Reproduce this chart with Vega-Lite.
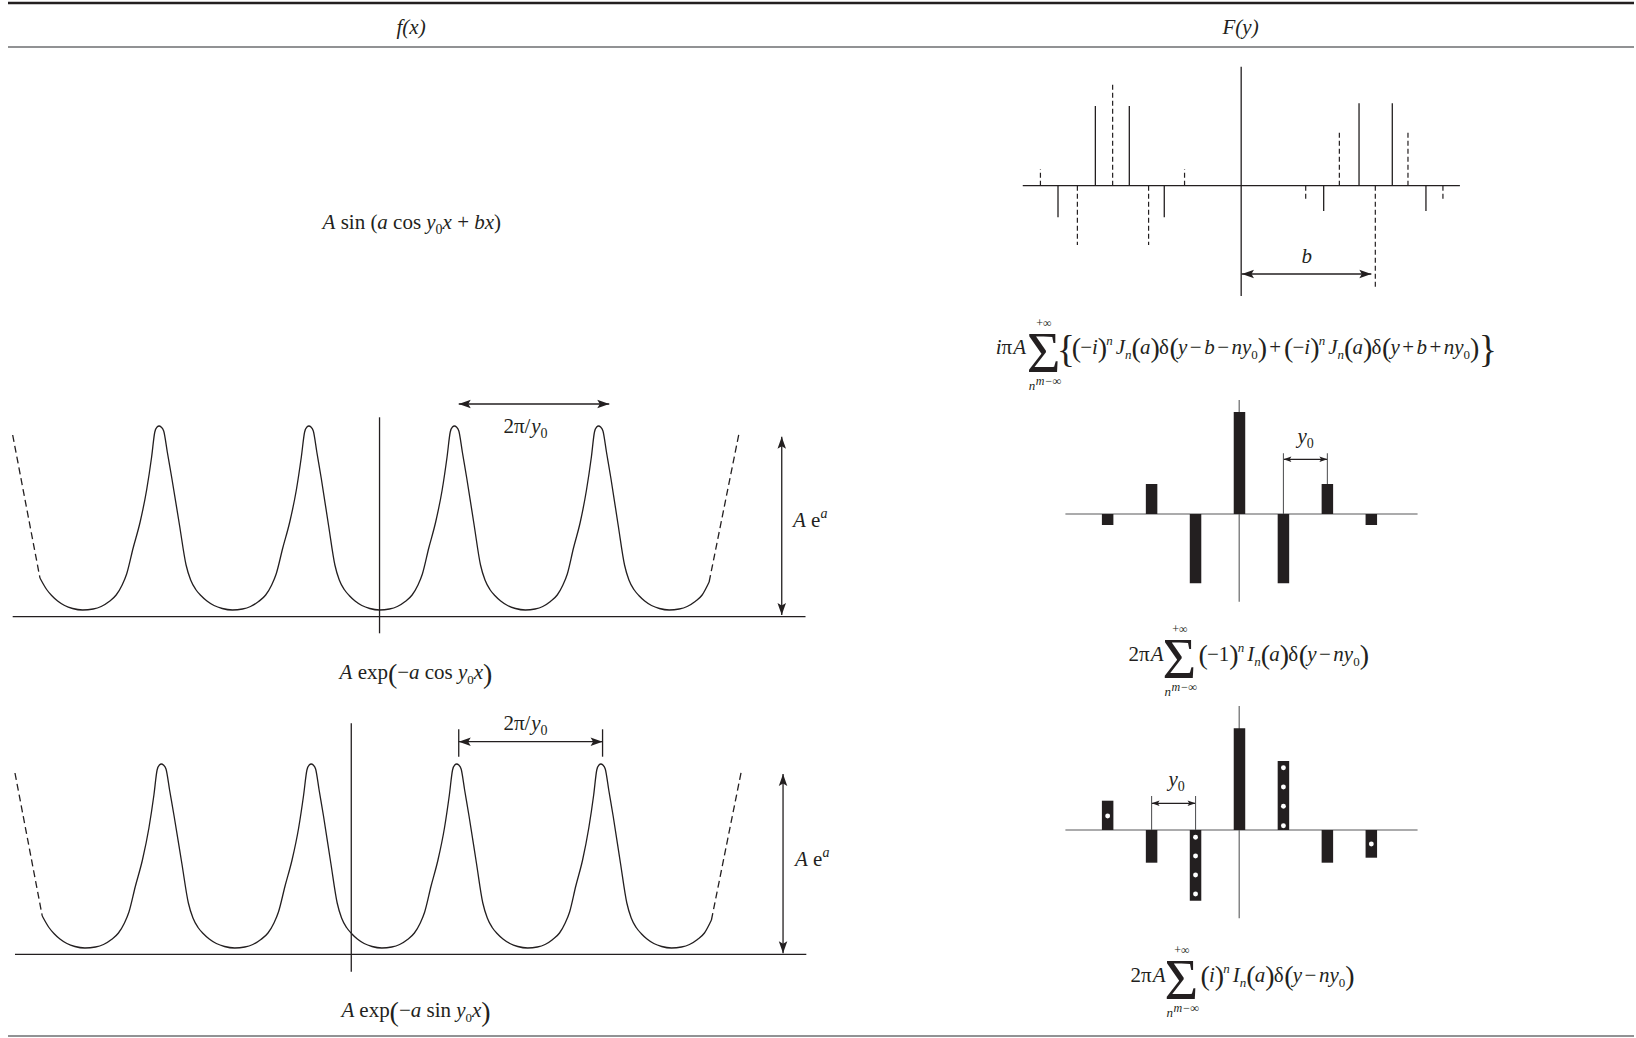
{
  "$schema": "https://vega.github.io/schema/vega-lite/v6.json",
  "width": 1636,
  "height": 1038,
  "autosize": {"type": "fit", "contains": "padding"},
  "padding": 0,
  "background": "white",
  "config": {"view": {"stroke": null}},
  "datasets": {
    "lines": [
      {"x": 8, "y": 3, "x2": 1636, "y2": 3, "s": "thick"},
      {"x": 8, "y": 47, "x2": 1636, "y2": 47, "s": "frame"},
      {"x": 8, "y": 1036, "x2": 1636, "y2": 1036, "s": "frame"},
      {"x": 12.7, "y": 616.7, "x2": 806.5, "y2": 616.7, "s": "ax"},
      {"x": 380, "y": 417.3, "x2": 380, "y2": 633.3, "s": "ax"},
      {"x": 459.3, "y": 404, "x2": 610, "y2": 404, "s": "ax"},
      {"x": 782.7, "y": 436.7, "x2": 782.7, "y2": 615, "s": "ax"},
      {"x": 15, "y": 954.3, "x2": 807.3, "y2": 954.3, "s": "ax"},
      {"x": 351.7, "y": 723.3, "x2": 351.7, "y2": 971.7, "s": "ax"},
      {"x": 459.3, "y": 741.7, "x2": 603.3, "y2": 741.7, "s": "ax"},
      {"x": 459.3, "y": 729.3, "x2": 459.3, "y2": 756.7, "s": "ax"},
      {"x": 603.3, "y": 729.3, "x2": 603.3, "y2": 756.7, "s": "ax"},
      {"x": 784, "y": 774, "x2": 784, "y2": 953.3, "s": "ax"},
      {"x": 1024, "y": 185.7, "x2": 1461.7, "y2": 185.7, "s": "ax"},
      {"x": 1242.7, "y": 66.7, "x2": 1242.7, "y2": 296, "s": "ax"},
      {"x": 1243, "y": 274, "x2": 1373, "y2": 274, "s": "ax"},
      {"x": 1041.7, "y": 185.7, "x2": 1041.7, "y2": 169.3, "s": "dash"},
      {"x": 1059.3, "y": 185.7, "x2": 1059.3, "y2": 217.3, "s": "ax"},
      {"x": 1078.7, "y": 185.7, "x2": 1078.7, "y2": 245, "s": "dash"},
      {"x": 1096.7, "y": 185.7, "x2": 1096.7, "y2": 106, "s": "ax"},
      {"x": 1114, "y": 185.7, "x2": 1114, "y2": 84, "s": "dash"},
      {"x": 1130.7, "y": 185.7, "x2": 1130.7, "y2": 106, "s": "ax"},
      {"x": 1150, "y": 185.7, "x2": 1150, "y2": 245, "s": "dash"},
      {"x": 1165.7, "y": 185.7, "x2": 1165.7, "y2": 217.3, "s": "ax"},
      {"x": 1186, "y": 185.7, "x2": 1186, "y2": 169.3, "s": "dash"},
      {"x": 1307.3, "y": 185.7, "x2": 1307.3, "y2": 201.7, "s": "dash"},
      {"x": 1325.3, "y": 185.7, "x2": 1325.3, "y2": 211, "s": "ax"},
      {"x": 1341, "y": 185.7, "x2": 1341, "y2": 131.7, "s": "dash"},
      {"x": 1360.7, "y": 185.7, "x2": 1360.7, "y2": 103.3, "s": "ax"},
      {"x": 1377, "y": 185.7, "x2": 1377, "y2": 287.3, "s": "dash"},
      {"x": 1394, "y": 185.7, "x2": 1394, "y2": 103.3, "s": "ax"},
      {"x": 1409.7, "y": 185.7, "x2": 1409.7, "y2": 131.7, "s": "dash"},
      {"x": 1427.7, "y": 185.7, "x2": 1427.7, "y2": 211, "s": "ax"},
      {"x": 1444.7, "y": 185.7, "x2": 1444.7, "y2": 201.7, "s": "dash"},
      {"x": 1066.7, "y": 514, "x2": 1419.3, "y2": 514, "s": "gray"},
      {"x": 1240.7, "y": 400, "x2": 1240.7, "y2": 601.7, "s": "gray"},
      {"x": 1285, "y": 453.3, "x2": 1285, "y2": 514, "s": "gray"},
      {"x": 1329, "y": 453.3, "x2": 1329, "y2": 484, "s": "gray"},
      {"x": 1285, "y": 459.3, "x2": 1329, "y2": 459.3, "s": "ax"},
      {"x": 1066.7, "y": 830, "x2": 1419.3, "y2": 830, "s": "gray"},
      {"x": 1240.7, "y": 706, "x2": 1240.7, "y2": 918.3, "s": "gray"},
      {"x": 1153, "y": 796, "x2": 1153, "y2": 830, "s": "gray"},
      {"x": 1197, "y": 796, "x2": 1197, "y2": 830, "s": "gray"},
      {"x": 1153, "y": 803.3, "x2": 1197, "y2": 803.3, "s": "ax"}
    ],
    "bars": [
      {"x": 1109, "y": 514, "y2": 525},
      {"x": 1153, "y": 514, "y2": 484},
      {"x": 1197, "y": 514, "y2": 583.3},
      {"x": 1241, "y": 514, "y2": 412},
      {"x": 1285, "y": 514, "y2": 583.3},
      {"x": 1329, "y": 514, "y2": 484},
      {"x": 1373, "y": 514, "y2": 525},
      {"x": 1109, "y": 830, "y2": 800.7},
      {"x": 1153, "y": 830, "y2": 862.7},
      {"x": 1197, "y": 830, "y2": 900.7},
      {"x": 1241, "y": 830, "y2": 728.3},
      {"x": 1285, "y": 830, "y2": 761},
      {"x": 1329, "y": 830, "y2": 862.7},
      {"x": 1373, "y": 830, "y2": 857.7}
    ],
    "dots": [
      {"x": 1109, "y": 816},
      {"x": 1197, "y": 837.3}, {"x": 1197, "y": 856}, {"x": 1197, "y": 875}, {"x": 1197, "y": 894},
      {"x": 1285, "y": 767.7}, {"x": 1285, "y": 787}, {"x": 1285, "y": 806.3}, {"x": 1285, "y": 825.7},
      {"x": 1373, "y": 844}
    ],
    "heads": [
      {"x": 459.3, "y": 404, "angle": 180, "k": "big"},
      {"x": 610, "y": 404, "angle": 0, "k": "big"},
      {"x": 782.7, "y": 436.7, "angle": 270, "k": "big"},
      {"x": 782.7, "y": 615, "angle": 90, "k": "big"},
      {"x": 459.3, "y": 741.7, "angle": 180, "k": "big"},
      {"x": 603.3, "y": 741.7, "angle": 0, "k": "big"},
      {"x": 784, "y": 774, "angle": 270, "k": "big"},
      {"x": 784, "y": 953.3, "angle": 90, "k": "big"},
      {"x": 1243.5, "y": 274, "angle": 180, "k": "big"},
      {"x": 1373, "y": 274, "angle": 0, "k": "big"},
      {"x": 1285, "y": 459.3, "angle": 180, "k": "small"},
      {"x": 1329, "y": 459.3, "angle": 0, "k": "small"},
      {"x": 1153, "y": 803.3, "angle": 180, "k": "small"},
      {"x": 1197, "y": 803.3, "angle": 0, "k": "small"}
    ],
    "curves": [
      {"x": 12.7, "y": 435, "seg": "t-dl", "p": "dash"},
      {"x": 40, "y": 578, "seg": "t-dl", "p": "dash"},
      {"x": 710, "y": 582, "seg": "t-dr", "p": "dash"},
      {"x": 740, "y": 433, "seg": "t-dr", "p": "dash"},
      {"x": 15, "y": 773, "seg": "b-dl", "p": "dash"},
      {"x": 42.3, "y": 916, "seg": "b-dl", "p": "dash"},
      {"x": 712.3, "y": 920, "seg": "b-dr", "p": "dash"},
      {"x": 742.3, "y": 771, "seg": "b-dr", "p": "dash"},
      {"x": 40, "y": 578, "seg": "t", "p": "solid"},
      {"x": 46.7, "y": 589.5, "seg": "t", "p": "solid"},
      {"x": 51.7, "y": 595.5, "seg": "t", "p": "solid"},
      {"x": 57.7, "y": 601, "seg": "t", "p": "solid"},
      {"x": 64.7, "y": 605.5, "seg": "t", "p": "solid"},
      {"x": 72.7, "y": 608.5, "seg": "t", "p": "solid"},
      {"x": 82.7, "y": 610, "seg": "t", "p": "solid"},
      {"x": 93.3, "y": 609, "seg": "t", "p": "solid"},
      {"x": 101.3, "y": 606.5, "seg": "t", "p": "solid"},
      {"x": 109.3, "y": 601.5, "seg": "t", "p": "solid"},
      {"x": 116.3, "y": 595, "seg": "t", "p": "solid"},
      {"x": 122.3, "y": 585, "seg": "t", "p": "solid"},
      {"x": 126.8, "y": 574, "seg": "t", "p": "solid"},
      {"x": 133.3, "y": 548, "seg": "t", "p": "solid"},
      {"x": 140.3, "y": 522, "seg": "t", "p": "solid"},
      {"x": 146.8, "y": 490, "seg": "t", "p": "solid"},
      {"x": 151.8, "y": 457, "seg": "t", "p": "solid"},
      {"x": 155, "y": 432, "seg": "t", "p": "solid"},
      {"x": 157.3, "y": 427, "seg": "t", "p": "solid"},
      {"x": 159.3, "y": 426, "seg": "t", "p": "solid"},
      {"x": 161.3, "y": 427, "seg": "t", "p": "solid"},
      {"x": 163.9, "y": 431, "seg": "t", "p": "solid"},
      {"x": 167.5, "y": 452, "seg": "t", "p": "solid"},
      {"x": 172, "y": 478, "seg": "t", "p": "solid"},
      {"x": 179.7, "y": 525, "seg": "t", "p": "solid"},
      {"x": 186.3, "y": 565, "seg": "t", "p": "solid"},
      {"x": 190.9, "y": 580, "seg": "t", "p": "solid"},
      {"x": 196, "y": 589.5, "seg": "t", "p": "solid"},
      {"x": 201.1, "y": 595.5, "seg": "t", "p": "solid"},
      {"x": 207.2, "y": 601, "seg": "t", "p": "solid"},
      {"x": 214.3, "y": 605.5, "seg": "t", "p": "solid"},
      {"x": 222.5, "y": 608.5, "seg": "t", "p": "solid"},
      {"x": 232.7, "y": 610, "seg": "t", "p": "solid"},
      {"x": 242.8, "y": 609, "seg": "t", "p": "solid"},
      {"x": 250.8, "y": 606.5, "seg": "t", "p": "solid"},
      {"x": 258.9, "y": 601.5, "seg": "t", "p": "solid"},
      {"x": 266, "y": 595, "seg": "t", "p": "solid"},
      {"x": 272, "y": 585, "seg": "t", "p": "solid"},
      {"x": 276.5, "y": 574, "seg": "t", "p": "solid"},
      {"x": 283.1, "y": 548, "seg": "t", "p": "solid"},
      {"x": 290.1, "y": 522, "seg": "t", "p": "solid"},
      {"x": 296.7, "y": 490, "seg": "t", "p": "solid"},
      {"x": 301.7, "y": 457, "seg": "t", "p": "solid"},
      {"x": 305, "y": 432, "seg": "t", "p": "solid"},
      {"x": 307.3, "y": 427, "seg": "t", "p": "solid"},
      {"x": 309.3, "y": 426, "seg": "t", "p": "solid"},
      {"x": 311.3, "y": 427, "seg": "t", "p": "solid"},
      {"x": 313.7, "y": 431, "seg": "t", "p": "solid"},
      {"x": 317.2, "y": 452, "seg": "t", "p": "solid"},
      {"x": 321.6, "y": 478, "seg": "t", "p": "solid"},
      {"x": 328.9, "y": 525, "seg": "t", "p": "solid"},
      {"x": 335.3, "y": 565, "seg": "t", "p": "solid"},
      {"x": 339.7, "y": 580, "seg": "t", "p": "solid"},
      {"x": 344.7, "y": 589.5, "seg": "t", "p": "solid"},
      {"x": 349.6, "y": 595.5, "seg": "t", "p": "solid"},
      {"x": 355.5, "y": 601, "seg": "t", "p": "solid"},
      {"x": 362.3, "y": 605.5, "seg": "t", "p": "solid"},
      {"x": 370.2, "y": 608.5, "seg": "t", "p": "solid"},
      {"x": 380, "y": 610, "seg": "t", "p": "solid"},
      {"x": 389.9, "y": 609, "seg": "t", "p": "solid"},
      {"x": 397.8, "y": 606.5, "seg": "t", "p": "solid"},
      {"x": 405.7, "y": 601.5, "seg": "t", "p": "solid"},
      {"x": 412.6, "y": 595, "seg": "t", "p": "solid"},
      {"x": 418.5, "y": 585, "seg": "t", "p": "solid"},
      {"x": 422.9, "y": 574, "seg": "t", "p": "solid"},
      {"x": 429.3, "y": 548, "seg": "t", "p": "solid"},
      {"x": 436.2, "y": 522, "seg": "t", "p": "solid"},
      {"x": 442.7, "y": 490, "seg": "t", "p": "solid"},
      {"x": 447.6, "y": 457, "seg": "t", "p": "solid"},
      {"x": 450.8, "y": 432, "seg": "t", "p": "solid"},
      {"x": 453, "y": 427, "seg": "t", "p": "solid"},
      {"x": 455, "y": 426, "seg": "t", "p": "solid"},
      {"x": 457, "y": 427, "seg": "t", "p": "solid"},
      {"x": 459.4, "y": 431, "seg": "t", "p": "solid"},
      {"x": 462.9, "y": 452, "seg": "t", "p": "solid"},
      {"x": 467.3, "y": 478, "seg": "t", "p": "solid"},
      {"x": 474.7, "y": 525, "seg": "t", "p": "solid"},
      {"x": 481.1, "y": 565, "seg": "t", "p": "solid"},
      {"x": 485.6, "y": 580, "seg": "t", "p": "solid"},
      {"x": 490.5, "y": 589.5, "seg": "t", "p": "solid"},
      {"x": 495.4, "y": 595.5, "seg": "t", "p": "solid"},
      {"x": 501.3, "y": 601, "seg": "t", "p": "solid"},
      {"x": 508.2, "y": 605.5, "seg": "t", "p": "solid"},
      {"x": 516.1, "y": 608.5, "seg": "t", "p": "solid"},
      {"x": 526, "y": 610, "seg": "t", "p": "solid"},
      {"x": 535.7, "y": 609, "seg": "t", "p": "solid"},
      {"x": 543.4, "y": 606.5, "seg": "t", "p": "solid"},
      {"x": 551.1, "y": 601.5, "seg": "t", "p": "solid"},
      {"x": 557.9, "y": 595, "seg": "t", "p": "solid"},
      {"x": 563.6, "y": 585, "seg": "t", "p": "solid"},
      {"x": 568, "y": 574, "seg": "t", "p": "solid"},
      {"x": 574.2, "y": 548, "seg": "t", "p": "solid"},
      {"x": 581, "y": 522, "seg": "t", "p": "solid"},
      {"x": 587.2, "y": 490, "seg": "t", "p": "solid"},
      {"x": 592.1, "y": 457, "seg": "t", "p": "solid"},
      {"x": 595.2, "y": 432, "seg": "t", "p": "solid"},
      {"x": 597.4, "y": 427, "seg": "t", "p": "solid"},
      {"x": 599.3, "y": 426, "seg": "t", "p": "solid"},
      {"x": 601.3, "y": 427, "seg": "t", "p": "solid"},
      {"x": 603.7, "y": 431, "seg": "t", "p": "solid"},
      {"x": 607.2, "y": 452, "seg": "t", "p": "solid"},
      {"x": 611.6, "y": 478, "seg": "t", "p": "solid"},
      {"x": 618.9, "y": 525, "seg": "t", "p": "solid"},
      {"x": 625.3, "y": 565, "seg": "t", "p": "solid"},
      {"x": 629.7, "y": 580, "seg": "t", "p": "solid"},
      {"x": 634.7, "y": 589.5, "seg": "t", "p": "solid"},
      {"x": 639.6, "y": 595.5, "seg": "t", "p": "solid"},
      {"x": 645.5, "y": 601, "seg": "t", "p": "solid"},
      {"x": 652.3, "y": 605.5, "seg": "t", "p": "solid"},
      {"x": 660.2, "y": 608.5, "seg": "t", "p": "solid"},
      {"x": 670, "y": 610, "seg": "t", "p": "solid"},
      {"x": 680, "y": 609, "seg": "t", "p": "solid"},
      {"x": 688, "y": 606.5, "seg": "t", "p": "solid"},
      {"x": 696, "y": 601.5, "seg": "t", "p": "solid"},
      {"x": 703, "y": 595, "seg": "t", "p": "solid"},
      {"x": 710, "y": 582, "seg": "t", "p": "solid"},
      {"x": 42.3, "y": 916, "seg": "b", "p": "solid"},
      {"x": 49, "y": 927.5, "seg": "b", "p": "solid"},
      {"x": 54, "y": 933.5, "seg": "b", "p": "solid"},
      {"x": 60, "y": 939, "seg": "b", "p": "solid"},
      {"x": 67, "y": 943.5, "seg": "b", "p": "solid"},
      {"x": 75, "y": 946.5, "seg": "b", "p": "solid"},
      {"x": 85, "y": 948, "seg": "b", "p": "solid"},
      {"x": 95.6, "y": 947, "seg": "b", "p": "solid"},
      {"x": 103.6, "y": 944.5, "seg": "b", "p": "solid"},
      {"x": 111.6, "y": 939.5, "seg": "b", "p": "solid"},
      {"x": 118.6, "y": 933, "seg": "b", "p": "solid"},
      {"x": 124.6, "y": 923, "seg": "b", "p": "solid"},
      {"x": 129.1, "y": 912, "seg": "b", "p": "solid"},
      {"x": 135.6, "y": 886, "seg": "b", "p": "solid"},
      {"x": 142.6, "y": 860, "seg": "b", "p": "solid"},
      {"x": 149.1, "y": 828, "seg": "b", "p": "solid"},
      {"x": 154.1, "y": 795, "seg": "b", "p": "solid"},
      {"x": 157.3, "y": 770, "seg": "b", "p": "solid"},
      {"x": 159.6, "y": 765, "seg": "b", "p": "solid"},
      {"x": 161.6, "y": 764, "seg": "b", "p": "solid"},
      {"x": 163.6, "y": 765, "seg": "b", "p": "solid"},
      {"x": 166.2, "y": 769, "seg": "b", "p": "solid"},
      {"x": 169.8, "y": 790, "seg": "b", "p": "solid"},
      {"x": 174.3, "y": 816, "seg": "b", "p": "solid"},
      {"x": 182, "y": 863, "seg": "b", "p": "solid"},
      {"x": 188.6, "y": 903, "seg": "b", "p": "solid"},
      {"x": 193.2, "y": 918, "seg": "b", "p": "solid"},
      {"x": 198.3, "y": 927.5, "seg": "b", "p": "solid"},
      {"x": 203.4, "y": 933.5, "seg": "b", "p": "solid"},
      {"x": 209.5, "y": 939, "seg": "b", "p": "solid"},
      {"x": 216.6, "y": 943.5, "seg": "b", "p": "solid"},
      {"x": 224.8, "y": 946.5, "seg": "b", "p": "solid"},
      {"x": 235, "y": 948, "seg": "b", "p": "solid"},
      {"x": 245.1, "y": 947, "seg": "b", "p": "solid"},
      {"x": 253.1, "y": 944.5, "seg": "b", "p": "solid"},
      {"x": 261.2, "y": 939.5, "seg": "b", "p": "solid"},
      {"x": 268.3, "y": 933, "seg": "b", "p": "solid"},
      {"x": 274.3, "y": 923, "seg": "b", "p": "solid"},
      {"x": 278.8, "y": 912, "seg": "b", "p": "solid"},
      {"x": 285.4, "y": 886, "seg": "b", "p": "solid"},
      {"x": 292.4, "y": 860, "seg": "b", "p": "solid"},
      {"x": 299, "y": 828, "seg": "b", "p": "solid"},
      {"x": 304, "y": 795, "seg": "b", "p": "solid"},
      {"x": 307.3, "y": 770, "seg": "b", "p": "solid"},
      {"x": 309.6, "y": 765, "seg": "b", "p": "solid"},
      {"x": 311.6, "y": 764, "seg": "b", "p": "solid"},
      {"x": 313.6, "y": 765, "seg": "b", "p": "solid"},
      {"x": 316, "y": 769, "seg": "b", "p": "solid"},
      {"x": 319.5, "y": 790, "seg": "b", "p": "solid"},
      {"x": 323.9, "y": 816, "seg": "b", "p": "solid"},
      {"x": 331.2, "y": 863, "seg": "b", "p": "solid"},
      {"x": 337.6, "y": 903, "seg": "b", "p": "solid"},
      {"x": 342, "y": 918, "seg": "b", "p": "solid"},
      {"x": 347, "y": 927.5, "seg": "b", "p": "solid"},
      {"x": 351.9, "y": 933.5, "seg": "b", "p": "solid"},
      {"x": 357.8, "y": 939, "seg": "b", "p": "solid"},
      {"x": 364.6, "y": 943.5, "seg": "b", "p": "solid"},
      {"x": 372.5, "y": 946.5, "seg": "b", "p": "solid"},
      {"x": 382.3, "y": 948, "seg": "b", "p": "solid"},
      {"x": 392.2, "y": 947, "seg": "b", "p": "solid"},
      {"x": 400.1, "y": 944.5, "seg": "b", "p": "solid"},
      {"x": 408, "y": 939.5, "seg": "b", "p": "solid"},
      {"x": 414.9, "y": 933, "seg": "b", "p": "solid"},
      {"x": 420.8, "y": 923, "seg": "b", "p": "solid"},
      {"x": 425.2, "y": 912, "seg": "b", "p": "solid"},
      {"x": 431.6, "y": 886, "seg": "b", "p": "solid"},
      {"x": 438.5, "y": 860, "seg": "b", "p": "solid"},
      {"x": 445, "y": 828, "seg": "b", "p": "solid"},
      {"x": 449.9, "y": 795, "seg": "b", "p": "solid"},
      {"x": 453.1, "y": 770, "seg": "b", "p": "solid"},
      {"x": 455.3, "y": 765, "seg": "b", "p": "solid"},
      {"x": 457.3, "y": 764, "seg": "b", "p": "solid"},
      {"x": 459.3, "y": 765, "seg": "b", "p": "solid"},
      {"x": 461.7, "y": 769, "seg": "b", "p": "solid"},
      {"x": 465.2, "y": 790, "seg": "b", "p": "solid"},
      {"x": 469.6, "y": 816, "seg": "b", "p": "solid"},
      {"x": 477, "y": 863, "seg": "b", "p": "solid"},
      {"x": 483.4, "y": 903, "seg": "b", "p": "solid"},
      {"x": 487.9, "y": 918, "seg": "b", "p": "solid"},
      {"x": 492.8, "y": 927.5, "seg": "b", "p": "solid"},
      {"x": 497.7, "y": 933.5, "seg": "b", "p": "solid"},
      {"x": 503.6, "y": 939, "seg": "b", "p": "solid"},
      {"x": 510.5, "y": 943.5, "seg": "b", "p": "solid"},
      {"x": 518.4, "y": 946.5, "seg": "b", "p": "solid"},
      {"x": 528.3, "y": 948, "seg": "b", "p": "solid"},
      {"x": 538, "y": 947, "seg": "b", "p": "solid"},
      {"x": 545.7, "y": 944.5, "seg": "b", "p": "solid"},
      {"x": 553.4, "y": 939.5, "seg": "b", "p": "solid"},
      {"x": 560.2, "y": 933, "seg": "b", "p": "solid"},
      {"x": 565.9, "y": 923, "seg": "b", "p": "solid"},
      {"x": 570.3, "y": 912, "seg": "b", "p": "solid"},
      {"x": 576.5, "y": 886, "seg": "b", "p": "solid"},
      {"x": 583.3, "y": 860, "seg": "b", "p": "solid"},
      {"x": 589.5, "y": 828, "seg": "b", "p": "solid"},
      {"x": 594.4, "y": 795, "seg": "b", "p": "solid"},
      {"x": 597.5, "y": 770, "seg": "b", "p": "solid"},
      {"x": 599.7, "y": 765, "seg": "b", "p": "solid"},
      {"x": 601.6, "y": 764, "seg": "b", "p": "solid"},
      {"x": 603.6, "y": 765, "seg": "b", "p": "solid"},
      {"x": 606, "y": 769, "seg": "b", "p": "solid"},
      {"x": 609.5, "y": 790, "seg": "b", "p": "solid"},
      {"x": 613.9, "y": 816, "seg": "b", "p": "solid"},
      {"x": 621.2, "y": 863, "seg": "b", "p": "solid"},
      {"x": 627.6, "y": 903, "seg": "b", "p": "solid"},
      {"x": 632, "y": 918, "seg": "b", "p": "solid"},
      {"x": 637, "y": 927.5, "seg": "b", "p": "solid"},
      {"x": 641.9, "y": 933.5, "seg": "b", "p": "solid"},
      {"x": 647.8, "y": 939, "seg": "b", "p": "solid"},
      {"x": 654.6, "y": 943.5, "seg": "b", "p": "solid"},
      {"x": 662.5, "y": 946.5, "seg": "b", "p": "solid"},
      {"x": 672.3, "y": 948, "seg": "b", "p": "solid"},
      {"x": 682.3, "y": 947, "seg": "b", "p": "solid"},
      {"x": 690.3, "y": 944.5, "seg": "b", "p": "solid"},
      {"x": 698.3, "y": 939.5, "seg": "b", "p": "solid"},
      {"x": 705.3, "y": 933, "seg": "b", "p": "solid"},
      {"x": 712.3, "y": 920, "seg": "b", "p": "solid"}
    ],
    "texts": [
      {"x": 397, "y": 34, "t": "f(x)", "r": "main", "s": "i"},
      {"x": 1224, "y": 34, "t": "F(y)", "r": "main", "s": "i"},
      {"x": 323, "y": 229, "t": "A", "r": "main", "s": "i"},
      {"x": 341.1, "y": 229, "t": "sin (", "r": "main", "s": "n"},
      {"x": 377.8, "y": 229, "t": "a", "r": "main", "s": "i"},
      {"x": 393.6, "y": 229, "t": "cos", "r": "main", "s": "n"},
      {"x": 426.8, "y": 229, "t": "y", "r": "main", "s": "i"},
      {"x": 436.1, "y": 234, "t": "0", "r": "sub", "s": "n"},
      {"x": 443.1, "y": 229, "t": "x", "r": "main", "s": "i"},
      {"x": 457.7, "y": 229, "t": "+", "r": "main", "s": "n"},
      {"x": 474.8, "y": 229, "t": "bx", "r": "main", "s": "i"},
      {"x": 494.6, "y": 229, "t": ")", "r": "main", "s": "n"},
      {"x": 340, "y": 679, "t": "A", "r": "main", "s": "i"},
      {"x": 358.1, "y": 679, "t": "exp", "r": "main", "s": "n"},
      {"x": 388.4, "y": 683, "t": "(", "r": "paren", "s": "n"},
      {"x": 397.7, "y": 679, "t": "−", "r": "main", "s": "n"},
      {"x": 409.5, "y": 679, "t": "a", "r": "main", "s": "i"},
      {"x": 425.3, "y": 679, "t": "cos", "r": "main", "s": "n"},
      {"x": 458.5, "y": 679, "t": "y", "r": "main", "s": "i"},
      {"x": 467.8, "y": 684, "t": "0", "r": "idx", "s": "n"},
      {"x": 474.3, "y": 679, "t": "x", "r": "main", "s": "i"},
      {"x": 483.6, "y": 683, "t": ")", "r": "paren", "s": "n"},
      {"x": 341.8, "y": 1017, "t": "A", "r": "main", "s": "i"},
      {"x": 359.8, "y": 1017, "t": "exp", "r": "main", "s": "n"},
      {"x": 390.1, "y": 1021, "t": "(", "r": "paren", "s": "n"},
      {"x": 399.4, "y": 1017, "t": "−", "r": "main", "s": "n"},
      {"x": 411.3, "y": 1017, "t": "a", "r": "main", "s": "i"},
      {"x": 427, "y": 1017, "t": "sin", "r": "main", "s": "n"},
      {"x": 456.8, "y": 1017, "t": "y", "r": "main", "s": "i"},
      {"x": 466.1, "y": 1022, "t": "0", "r": "idx", "s": "n"},
      {"x": 472.6, "y": 1017, "t": "x", "r": "main", "s": "i"},
      {"x": 481.9, "y": 1021, "t": ")", "r": "paren", "s": "n"},
      {"x": 504, "y": 433, "t": "2π/", "r": "main", "s": "n"},
      {"x": 531.9, "y": 433, "t": "y", "r": "main", "s": "i"},
      {"x": 541.2, "y": 438, "t": "0", "r": "sub", "s": "n"},
      {"x": 504, "y": 730, "t": "2π/", "r": "main", "s": "n"},
      {"x": 531.9, "y": 730, "t": "y", "r": "main", "s": "i"},
      {"x": 541.2, "y": 735, "t": "0", "r": "sub", "s": "n"},
      {"x": 794, "y": 527, "t": "A", "r": "main", "s": "i"},
      {"x": 812.1, "y": 527, "t": "e", "r": "main", "s": "n"},
      {"x": 821.6, "y": 518, "t": "a", "r": "sub", "s": "i"},
      {"x": 796, "y": 866, "t": "A", "r": "main", "s": "i"},
      {"x": 814.1, "y": 866, "t": "e", "r": "main", "s": "n"},
      {"x": 823.6, "y": 857, "t": "a", "r": "sub", "s": "i"},
      {"x": 1303, "y": 263, "t": "b", "r": "main", "s": "i"},
      {"x": 1299, "y": 443, "t": "y", "r": "main", "s": "i"},
      {"x": 1308.3, "y": 448, "t": "0", "r": "sub", "s": "n"},
      {"x": 1170, "y": 786, "t": "y", "r": "main", "s": "i"},
      {"x": 1179.3, "y": 791, "t": "0", "r": "sub", "s": "n"},
      {"x": 997, "y": 354, "t": "i", "r": "main", "s": "i"},
      {"x": 1002.8, "y": 354, "t": "π", "r": "main", "s": "n"},
      {"x": 1014.4, "y": 354, "t": "A", "r": "main", "s": "i"},
      {"x": 1028, "y": 372, "t": "Σ", "r": "sigma", "s": "n"},
      {"x": 1037.5, "y": 327, "t": "+∞", "r": "lim", "s": "n"},
      {"x": 1030, "y": 390, "t": "n", "r": "idx", "s": "i"},
      {"x": 1037, "y": 385, "t": "m−∞", "r": "lim", "s": "i"},
      {"x": 1058, "y": 362, "t": "{", "r": "brace", "s": "n"},
      {"x": 1073, "y": 357, "t": "(", "r": "paren", "s": "n"},
      {"x": 1081.5, "y": 354, "t": "−", "r": "main", "s": "n"},
      {"x": 1093.3, "y": 354, "t": "i", "r": "main", "s": "i"},
      {"x": 1099.2, "y": 357, "t": ")", "r": "paren", "s": "n"},
      {"x": 1107.7, "y": 345, "t": "n", "r": "idx", "s": "i"},
      {"x": 1117.2, "y": 354, "t": "J", "r": "main", "s": "i"},
      {"x": 1126.5, "y": 359, "t": "n", "r": "idx", "s": "i"},
      {"x": 1133, "y": 357, "t": "(", "r": "paren", "s": "n"},
      {"x": 1141.5, "y": 354, "t": "a", "r": "main", "s": "i"},
      {"x": 1152, "y": 357, "t": ")", "r": "paren", "s": "n"},
      {"x": 1160.5, "y": 354, "t": "δ", "r": "main", "s": "n"},
      {"x": 1171, "y": 357, "t": "(", "r": "paren", "s": "n"},
      {"x": 1179.5, "y": 354, "t": "y", "r": "main", "s": "i"},
      {"x": 1191.3, "y": 354, "t": "−", "r": "main", "s": "n"},
      {"x": 1205.7, "y": 354, "t": "b", "r": "main", "s": "i"},
      {"x": 1218.7, "y": 354, "t": "−", "r": "main", "s": "n"},
      {"x": 1233, "y": 354, "t": "ny", "r": "main", "s": "i"},
      {"x": 1252.8, "y": 359, "t": "0", "r": "idx", "s": "n"},
      {"x": 1259.3, "y": 357, "t": ")", "r": "paren", "s": "n"},
      {"x": 1270.8, "y": 354, "t": "+", "r": "main", "s": "n"},
      {"x": 1285.6, "y": 357, "t": "(", "r": "paren", "s": "n"},
      {"x": 1294.1, "y": 354, "t": "−", "r": "main", "s": "n"},
      {"x": 1305.9, "y": 354, "t": "i", "r": "main", "s": "i"},
      {"x": 1311.8, "y": 357, "t": ")", "r": "paren", "s": "n"},
      {"x": 1320.3, "y": 345, "t": "n", "r": "idx", "s": "i"},
      {"x": 1329.8, "y": 354, "t": "J", "r": "main", "s": "i"},
      {"x": 1339.1, "y": 359, "t": "n", "r": "idx", "s": "i"},
      {"x": 1345.6, "y": 357, "t": "(", "r": "paren", "s": "n"},
      {"x": 1354.1, "y": 354, "t": "a", "r": "main", "s": "i"},
      {"x": 1364.6, "y": 357, "t": ")", "r": "paren", "s": "n"},
      {"x": 1373.1, "y": 354, "t": "δ", "r": "main", "s": "n"},
      {"x": 1383.6, "y": 357, "t": "(", "r": "paren", "s": "n"},
      {"x": 1392.1, "y": 354, "t": "y", "r": "main", "s": "i"},
      {"x": 1403.9, "y": 354, "t": "+", "r": "main", "s": "n"},
      {"x": 1418.3, "y": 354, "t": "b", "r": "main", "s": "i"},
      {"x": 1431.3, "y": 354, "t": "+", "r": "main", "s": "n"},
      {"x": 1445.6, "y": 354, "t": "ny", "r": "main", "s": "i"},
      {"x": 1465.4, "y": 359, "t": "0", "r": "idx", "s": "n"},
      {"x": 1471.9, "y": 357, "t": ")", "r": "paren", "s": "n"},
      {"x": 1480.5, "y": 362, "t": "}", "r": "brace", "s": "n"},
      {"x": 1130, "y": 661, "t": "2", "r": "main", "s": "n"},
      {"x": 1140.5, "y": 661, "t": "π", "r": "main", "s": "n"},
      {"x": 1152.1, "y": 661, "t": "A", "r": "main", "s": "i"},
      {"x": 1164, "y": 678, "t": "Σ", "r": "sigma", "s": "n"},
      {"x": 1173.6, "y": 633, "t": "+∞", "r": "lim", "s": "n"},
      {"x": 1166, "y": 696, "t": "n", "r": "idx", "s": "i"},
      {"x": 1173, "y": 691, "t": "m−∞", "r": "lim", "s": "i"},
      {"x": 1200, "y": 664, "t": "(", "r": "paren", "s": "n"},
      {"x": 1208.5, "y": 661, "t": "−", "r": "main", "s": "n"},
      {"x": 1220.3, "y": 661, "t": "1", "r": "main", "s": "n"},
      {"x": 1230.8, "y": 664, "t": ")", "r": "paren", "s": "n"},
      {"x": 1239.3, "y": 652, "t": "n", "r": "idx", "s": "i"},
      {"x": 1248.8, "y": 661, "t": "I", "r": "main", "s": "i"},
      {"x": 1255.8, "y": 666, "t": "n", "r": "idx", "s": "i"},
      {"x": 1262.3, "y": 664, "t": "(", "r": "paren", "s": "n"},
      {"x": 1270.8, "y": 661, "t": "a", "r": "main", "s": "i"},
      {"x": 1281.3, "y": 664, "t": ")", "r": "paren", "s": "n"},
      {"x": 1289.8, "y": 661, "t": "δ", "r": "main", "s": "n"},
      {"x": 1300.3, "y": 664, "t": "(", "r": "paren", "s": "n"},
      {"x": 1308.8, "y": 661, "t": "y", "r": "main", "s": "i"},
      {"x": 1320.6, "y": 661, "t": "−", "r": "main", "s": "n"},
      {"x": 1335, "y": 661, "t": "ny", "r": "main", "s": "i"},
      {"x": 1354.8, "y": 666, "t": "0", "r": "idx", "s": "n"},
      {"x": 1361.3, "y": 664, "t": ")", "r": "paren", "s": "n"},
      {"x": 1132, "y": 982, "t": "2", "r": "main", "s": "n"},
      {"x": 1142.5, "y": 982, "t": "π", "r": "main", "s": "n"},
      {"x": 1154.1, "y": 982, "t": "A", "r": "main", "s": "i"},
      {"x": 1166, "y": 999, "t": "Σ", "r": "sigma", "s": "n"},
      {"x": 1175.6, "y": 954, "t": "+∞", "r": "lim", "s": "n"},
      {"x": 1168, "y": 1017, "t": "n", "r": "idx", "s": "i"},
      {"x": 1175, "y": 1012, "t": "m−∞", "r": "lim", "s": "i"},
      {"x": 1202, "y": 985, "t": "(", "r": "paren", "s": "n"},
      {"x": 1210.5, "y": 982, "t": "i", "r": "main", "s": "i"},
      {"x": 1216.3, "y": 985, "t": ")", "r": "paren", "s": "n"},
      {"x": 1224.8, "y": 973, "t": "n", "r": "idx", "s": "i"},
      {"x": 1234.3, "y": 982, "t": "I", "r": "main", "s": "i"},
      {"x": 1241.3, "y": 987, "t": "n", "r": "idx", "s": "i"},
      {"x": 1247.8, "y": 985, "t": "(", "r": "paren", "s": "n"},
      {"x": 1256.3, "y": 982, "t": "a", "r": "main", "s": "i"},
      {"x": 1266.8, "y": 985, "t": ")", "r": "paren", "s": "n"},
      {"x": 1275.3, "y": 982, "t": "δ", "r": "main", "s": "n"},
      {"x": 1285.8, "y": 985, "t": "(", "r": "paren", "s": "n"},
      {"x": 1294.3, "y": 982, "t": "y", "r": "main", "s": "i"},
      {"x": 1306.2, "y": 982, "t": "−", "r": "main", "s": "n"},
      {"x": 1320.5, "y": 982, "t": "ny", "r": "main", "s": "i"},
      {"x": 1340.3, "y": 987, "t": "0", "r": "idx", "s": "n"},
      {"x": 1346.8, "y": 985, "t": ")", "r": "paren", "s": "n"}
    ]
  },
  "encoding": {
    "x": {"field": "x", "type": "quantitative", "scale": {"domain": [0, 1636], "nice": false, "zero": false}, "axis": null},
    "y": {"field": "y", "type": "quantitative", "scale": {"domain": [0, 1038], "nice": false, "zero": false, "reverse": true}, "axis": null}
  },
  "layer": [
    {
      "data": {"name": "lines"},
      "transform": [{"filter": "datum.s === 'thick'"}],
      "mark": {"type": "rule", "color": "#231f20", "strokeWidth": 2.6, "strokeCap": "butt"},
      "encoding": {"x2": {"field": "x2"}, "y2": {"field": "y2"}}
    },
    {
      "data": {"name": "lines"},
      "transform": [{"filter": "datum.s === 'frame'"}],
      "mark": {"type": "rule", "color": "#6d6e71", "strokeWidth": 1.4, "strokeCap": "butt"},
      "encoding": {"x2": {"field": "x2"}, "y2": {"field": "y2"}}
    },
    {
      "data": {"name": "lines"},
      "transform": [{"filter": "datum.s === 'ax'"}],
      "mark": {"type": "rule", "color": "#231f20", "strokeWidth": 1.3, "strokeCap": "butt"},
      "encoding": {"x2": {"field": "x2"}, "y2": {"field": "y2"}}
    },
    {
      "data": {"name": "lines"},
      "transform": [{"filter": "datum.s === 'gray'"}],
      "mark": {"type": "rule", "color": "#58595b", "strokeWidth": 1.1, "strokeCap": "butt"},
      "encoding": {"x2": {"field": "x2"}, "y2": {"field": "y2"}}
    },
    {
      "data": {"name": "lines"},
      "transform": [{"filter": "datum.s === 'dash'"}],
      "mark": {"type": "rule", "color": "#231f20", "strokeWidth": 1.2, "strokeDash": [5, 3], "strokeCap": "butt"},
      "encoding": {"x2": {"field": "x2"}, "y2": {"field": "y2"}}
    },
    {
      "data": {"name": "curves"},
      "transform": [{"filter": "datum.p === 'solid'"}],
      "mark": {"type": "line", "color": "#231f20", "strokeWidth": 1.3, "interpolate": "monotone"},
      "encoding": {"detail": {"field": "seg"}}
    },
    {
      "data": {"name": "curves"},
      "transform": [{"filter": "datum.p === 'dash'"}],
      "mark": {"type": "line", "color": "#231f20", "strokeWidth": 1.3, "strokeDash": [7, 4]},
      "encoding": {"detail": {"field": "seg"}}
    },
    {
      "data": {"name": "bars"},
      "mark": {"type": "rule", "color": "#231f20", "strokeWidth": 11.5, "strokeCap": "butt"},
      "encoding": {"y2": {"field": "y2"}}
    },
    {
      "data": {"name": "dots"},
      "mark": {"type": "point", "filled": true, "color": "white", "opacity": 1, "size": 24, "strokeWidth": 0}
    },
    {
      "data": {"name": "heads"},
      "transform": [{"filter": "datum.k === 'big'"}],
      "mark": {"type": "point", "filled": true, "color": "#231f20", "opacity": 1, "size": 100, "strokeWidth": 0, "shape": "M0,0L-2.4,-0.85L-1.9,0L-2.4,0.85Z"},
      "encoding": {"angle": {"field": "angle", "type": "quantitative", "scale": null}}
    },
    {
      "data": {"name": "heads"},
      "transform": [{"filter": "datum.k === 'small'"}],
      "mark": {"type": "point", "filled": true, "color": "#231f20", "opacity": 1, "size": 44, "strokeWidth": 0, "shape": "M0,0L-2.4,-0.85L-1.9,0L-2.4,0.85Z"},
      "encoding": {"angle": {"field": "angle", "type": "quantitative", "scale": null}}
    },
    {
      "data": {"name": "texts"},
      "transform": [{"filter": "datum.s === 'n'"}],
      "mark": {"type": "text", "font": "Liberation Serif", "fontStyle": "normal", "align": "left", "baseline": "alphabetic", "color": "#231f20"},
      "encoding": {
        "text": {"field": "t"},
        "size": {"field": "r", "type": "nominal", "scale": {"type": "ordinal", "domain": ["main", "sub", "idx", "lim", "paren", "brace", "sigma"], "range": [21, 14, 13, 12, 28, 38, 58]}, "legend": null}
      }
    },
    {
      "data": {"name": "texts"},
      "transform": [{"filter": "datum.s === 'i'"}],
      "mark": {"type": "text", "font": "Liberation Serif", "fontStyle": "italic", "align": "left", "baseline": "alphabetic", "color": "#231f20"},
      "encoding": {
        "text": {"field": "t"},
        "size": {"field": "r", "type": "nominal", "scale": {"type": "ordinal", "domain": ["main", "sub", "idx", "lim", "paren", "brace", "sigma"], "range": [21, 14, 13, 12, 28, 38, 58]}, "legend": null}
      }
    }
  ]
}
